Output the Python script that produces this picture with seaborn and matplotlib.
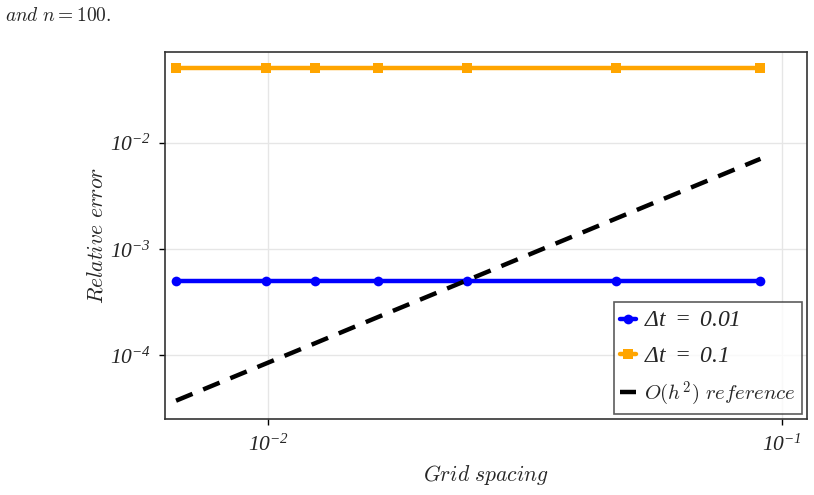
import numpy as np
import pandas as pd
import matplotlib
matplotlib.use("Agg")
import matplotlib.pyplot as plt
import seaborn as sns

# grid spacings h = 1/(n+1) and relative errors
grid_spacing = [1/151, 1/101, 1/81, 1/61, 1/41, 1/21, 1/11]
err_dt_001 = [5.0e-4, 5.0e-4, 5.0e-4, 5.0e-4, 5.0e-4, 5.0e-4, 5.0e-4]
err_dt_01 = [5.0e-2, 5.0e-2, 5.0e-2, 5.0e-2, 5.0e-2, 5.0e-2, 5.0e-2]
ref_h2 = [3.75e-5, 8.37e-5, 1.30e-4, 2.30e-4, 5.08e-4, 1.94e-3, 7.06e-3]

labels = [r"$\Delta t\ =\ 0.01$", r"$\Delta t\ =\ 0.1$",
          r"$\mathit{O(h^2)\ reference}$"]

sns.set_style("white")
plt.rcParams["mathtext.fontset"] = "cm"
# italic digits: a custom math font set whose roman face is italic
plt.rcParams["mathtext.rm"] = "Liberation Serif:italic"
plt.rcParams["mathtext.it"] = "Liberation Serif:italic"
plt.rcParams["mathtext.bf"] = "Liberation Serif:bold"
plt.rcParams["font.family"] = ["DejaVu Serif"]

fig = plt.figure(figsize=(8.14, 4.95), dpi=100)
ax = fig.add_axes([0.2027, 0.1535, 0.7887, 0.7414])

sns.lineplot(x=grid_spacing, y=err_dt_001, ax=ax, color="#0000ff", lw=3.2,
             marker="o", markersize=7, markeredgewidth=0, label=labels[0])
sns.lineplot(x=grid_spacing, y=err_dt_01, ax=ax, color="#ffa500", lw=3.2,
             marker="s", markersize=7, markeredgewidth=0, label=labels[1])
sns.lineplot(x=grid_spacing, y=ref_h2, ax=ax, color="black", lw=3.2,
             linestyle=(0, (4, 2.6)), label=labels[2])

ax.set_xscale("log")
ax.set_yscale("log")
ax.set_xlim(0.006302, 0.1120)
ax.set_ylim(2.52e-5, 0.07135)
ax.minorticks_off()
ax.set_xticks([1e-2, 1e-1])
ax.set_xticklabels([r"$10^{-2}$", r"$10^{-1}$"])
ax.set_yticks([1e-4, 1e-3, 1e-2])
ax.set_yticklabels([r"$10^{-4}$", r"$10^{-3}$", r"$10^{-2}$"])
for t in ax.get_xticklabels() + ax.get_yticklabels():
    t.set_math_fontfamily("custom")
ax.tick_params(axis="both", labelsize=15.5, length=4, width=1, direction="out",
               bottom=True, left=True, color="black")
ax.tick_params(axis="x", pad=7)
ax.tick_params(axis="y", pad=6)
ax.grid(True, color="#e6e6e6", lw=1)
for s in ax.spines.values():
    s.set_color("#333333")
    s.set_linewidth(1.2)

ax.set_xlabel(r"$\mathit{Grid\ spacing}$", fontsize=15.5, labelpad=5)
ax.set_ylabel(r"$\mathit{Relative\ error}$", fontsize=15.5, labelpad=2)

leg = ax.legend(loc="lower right", fontsize=15, frameon=True, fancybox=False,
                handlelength=0.8, handletextpad=0.35, borderpad=0.3,
                labelspacing=0.6, borderaxespad=0.25)
leg.get_frame().set_edgecolor("#333333")
leg.get_frame().set_linewidth(1.2)
for t in leg.get_texts()[:2]:
    t.set_math_fontfamily("custom")
    t.set_fontsize(17)

cap = fig.text(0.006, 0.985, r"$\mathit{and}\ n = 100.$", fontsize=14,
               va="top", ha="left")

fig.savefig("out.png", dpi=100)
